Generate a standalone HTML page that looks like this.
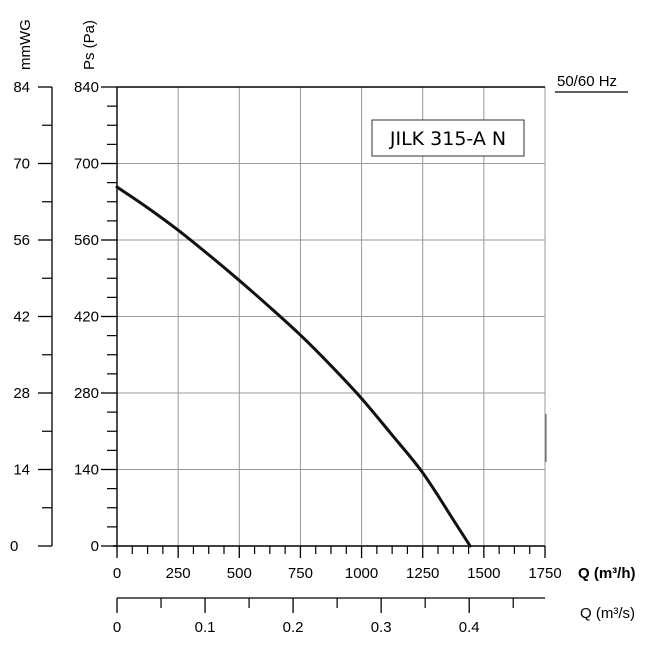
<!DOCTYPE html>
<html><head><meta charset="utf-8"><style>
html,body{margin:0;padding:0;background:#fff;}
svg{display:block;font-family:"Liberation Sans",Arial,sans-serif;}
</style></head><body>
<svg id="chart" width="662" height="651" viewBox="0 0 662 651" xmlns="http://www.w3.org/2000/svg">
<g id="grid"></g>
<g id="axes"></g>
<path id="curve" fill="none" stroke="#111" stroke-width="3" stroke-linecap="round"/>
<text x="30" y="70" transform="rotate(-90 30 70)" font-size="15">mmWG</text>
<text x="94" y="70" transform="rotate(-90 94 70)" font-size="15">Ps (Pa)</text>
<text x="557" y="86" font-size="15">50/60 Hz</text>
<line x1="555" y1="92" x2="628" y2="92" stroke="#000" stroke-width="1.2"/>
<rect x="372" y="120" width="152" height="36" fill="#fff" stroke="#333" stroke-width="1"/>
<text x="448" y="145" font-size="19" text-anchor="middle" font-family="'DejaVu Sans','Liberation Sans',sans-serif">JILK 315-A N</text>
<line x1="546" y1="414" x2="546" y2="462" stroke="#555" stroke-width="1"/>
<text x="578" y="578" font-size="15" font-weight="bold">Q (m³/h)</text>
<text x="580" y="618" font-size="15">Q (m³/s)</text>
</svg>
<script>
const flowCats = [0, 125, 250, 375, 500, 625, 750, 875, 1000, 1125, 1250, 1375, 1444];
const pressureVals = [657, 619, 578, 533, 486, 437, 386, 330, 270, 203, 134, 48, 0];
const xTicks = [0, 250, 500, 750, 1000, 1250, 1500, 1750];
const yTicks = [0, 140, 280, 420, 560, 700, 840];
const mmTicks = [0, 14, 28, 42, 56, 70, 84];
const m3sTicks = [0, 0.1, 0.2, 0.3, 0.4];

const X0=117, X1=545, Y0=546, Y1=87;
const xs = q => X0 + q/1750*(X1-X0);
const ys = p => Y0 - p/840*(Y0-Y1);
const NS="http://www.w3.org/2000/svg";
const grid=document.getElementById('grid'), axes=document.getElementById('axes');
function mk(tag, attrs, parent){const e=document.createElementNS(NS,tag);for(const k in attrs)e.setAttribute(k,attrs[k]);parent.appendChild(e);return e;}

xTicks.forEach(v=>{
  if(v>0){const l=mk('line',{x1:xs(v),y1:Y1,x2:xs(v),y2:Y0,stroke:'#999','stroke-width':1},grid);
  
  }
  const t=mk('text',{x:xs(v),y:578,'font-size':15,'text-anchor':'middle'},axes);t.textContent=v;
  
  
  const tk=mk('line',{x1:xs(v),y1:Y0,x2:xs(v),y2:Y0+12,stroke:'#000','stroke-width':1.3},axes);
  
  
});
for(let q=62.5;q<1750;q+=62.5){ if(q%250===0)continue;
  const tk=mk('line',{x1:xs(q),y1:Y0,x2:xs(q),y2:Y0+8,stroke:'#000','stroke-width':1.2},axes);
  
  
}
yTicks.forEach(v=>{
  if(v>0){const l=mk('line',{x1:X0,y1:ys(v),x2:X1,y2:ys(v),stroke:'#999','stroke-width':1},grid);
  
  }
  const tk=mk('line',{x1:X0-16,y1:ys(v),x2:X0,y2:ys(v),stroke:'#000','stroke-width':1.3},axes);
  
  
  const t=mk('text',{x:99,y:ys(v)+5,'font-size':15,'text-anchor':'end'},axes);t.textContent=v;
  
  
});
for(let p=35;p<840;p+=35){ if(p%140===0)continue;
  const tk=mk('line',{x1:X0-10,y1:ys(p),x2:X0,y2:ys(p),stroke:'#000','stroke-width':1.2},axes);
  
  
}
[[X0,Y1,X1,Y1],[X0,Y1,X0,Y0],[X0-4,Y0,X1,Y0]].forEach(a=>{
  const l=mk('line',{x1:a[0],y1:a[1],x2:a[2],y2:a[3],stroke:'#000','stroke-width':1.4},axes);
  
  
});
const MX=52;
const ml=mk('line',{x1:MX,y1:Y1,x2:MX,y2:Y0,stroke:'#000','stroke-width':1.3},axes);


mmTicks.forEach(v=>{
  const y=ys(v*10);
  const tk=mk('line',{x1:MX-14,y1:y,x2:MX,y2:y,stroke:'#000','stroke-width':1.3},axes);
  
  
  const t=mk('text',{x:v===0?10:30,y:y+5,'font-size':15,'text-anchor':v===0?'start':'end'},axes);t.textContent=v;
  
  
  if(v<84){const m=mk('line',{x1:MX-10,y1:ys(v*10+70),x2:MX,y2:ys(v*10+70),stroke:'#000','stroke-width':1.2},axes);
  
  }
});
const SY=598, xm=s=>xs(s*3600);
const sl=mk('line',{x1:X0,y1:SY,x2:X1,y2:SY,stroke:'#000','stroke-width':1.3},axes);


m3sTicks.forEach(v=>{
  const tk=mk('line',{x1:xm(v),y1:SY,x2:xm(v),y2:SY+15,stroke:'#000','stroke-width':1.3},axes);
  
  
  const t=mk('text',{x:xm(v),y:632,'font-size':15,'text-anchor':'middle'},axes);t.textContent=v;
  
  
});
for(let s=0.05;s<0.48;s+=0.1){
  const tk=mk('line',{x1:xm(s),y1:SY,x2:xm(s),y2:SY+10,stroke:'#000','stroke-width':1.2},axes);
  
  
}
const pts=flowCats.map((q,i)=>[xs(q),ys(pressureVals[i])]);
let d='M'+pts[0][0]+','+pts[0][1];
for(let i=0;i<pts.length-1;i++){
  const p0=pts[Math.max(0,i-1)],p1=pts[i],p2=pts[i+1],p3=pts[Math.min(pts.length-1,i+2)];
  const c1=[p1[0]+(p2[0]-p0[0])/6,p1[1]+(p2[1]-p0[1])/6];
  const c2=[p2[0]-(p3[0]-p1[0])/6,p2[1]-(p3[1]-p1[1])/6];
  d+=` C${c1[0]},${c1[1]} ${c2[0]},${c2[1]} ${p2[0]},${p2[1]}`;
}
document.getElementById('curve').setAttribute('d',d);
</script>
</body></html>
